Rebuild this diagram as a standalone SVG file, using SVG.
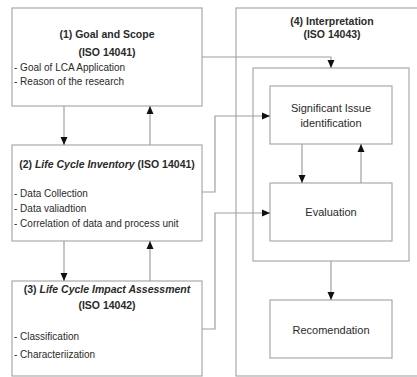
<svg xmlns="http://www.w3.org/2000/svg" width="417" height="377" viewBox="0 0 417 377">
<defs>
<marker id="ah" markerUnits="userSpaceOnUse" markerWidth="8" markerHeight="8" viewBox="0 0 8 8" refX="8" refY="4" orient="auto">
<path d="M0,0.5 L8,4 L0,7.5 Z" fill="#111"/>
</marker>
<style>
.box{fill:#fff;stroke:#aaaaaa;stroke-width:1.2}
.con{fill:none;stroke:#a0a0a0;stroke-width:1.2;marker-end:url(#ah)}
text{font-family:"Liberation Sans",Arial,sans-serif;fill:#2a2a2a}
.t{font-size:10.5px;font-weight:bold;text-anchor:middle}
.b{font-size:10px}
.n{font-size:11px;text-anchor:middle}
</style>
</defs>
<rect width="417" height="377" fill="#fff"/>
<g id="interpretation">
<rect class="box" x="236" y="8" width="200" height="368"/>
<text class="t" x="332" y="25">(4) Interpretation</text>
<text class="t" x="332" y="38">(ISO 14043)</text>
</g>
<g id="inner-group">
<rect class="box" x="253" y="68" width="156" height="193"/>
</g>
<g id="goal-scope">
<rect class="box" x="12" y="8" width="190" height="98"/>
<text class="t" x="107" y="38">(1) Goal and Scope</text>
<text class="t" x="107" y="56">(ISO 14041)</text>
<text class="b" x="14" y="70.5">- Goal of LCA Application</text>
<text class="b" x="14" y="84.5">- Reason of the research</text>
</g>
<g id="inventory">
<rect class="box" x="12" y="145" width="190" height="96"/>
<text class="t" x="107" y="168">(2) <tspan font-style="italic">Life Cycle Inventory</tspan> (ISO 14041)</text>
<text class="b" x="14" y="196.5">- Data Collection</text>
<text class="b" x="14" y="212">- Data valiadtion</text>
<text class="b" x="14" y="226.5">- Correlation of data and process unit</text>
</g>
<g id="impact">
<rect class="box" x="12" y="281" width="190" height="95"/>
<text class="t" x="107" y="293">(3) <tspan font-style="italic">Life Cycle Impact Assessment</tspan></text>
<text class="t" x="107" y="309">(ISO 14042)</text>
<text class="b" x="14" y="339.5">- Classification</text>
<text class="b" x="14" y="357.5">- Characteriization</text>
</g>
<g id="significant">
<rect class="box" x="270" y="86" width="122" height="58"/>
<text class="n" x="331" y="112">Significant Issue</text>
<text class="n" x="331" y="127">identification</text>
</g>
<g id="evaluation">
<rect class="box" x="270" y="183" width="122" height="58"/>
<text class="n" x="331" y="216">Evaluation</text>
</g>
<g id="recomendation">
<rect class="box" x="270" y="300" width="122" height="58"/>
<text class="n" x="331" y="334">Recomendation</text>
</g>
<g id="connectors">
<path class="con" d="M64,106 V145"/>
<path class="con" d="M150,145 V106"/>
<path class="con" d="M64,241 V281"/>
<path class="con" d="M150,281 V241"/>
<path class="con" d="M202,57 H331 V68"/>
<path class="con" d="M202,192 H215 V116 H270"/>
<path class="con" d="M202,329 H215 V213 H270"/>
<path class="con" d="M302,144 V183"/>
<path class="con" d="M361,183 V144"/>
<path class="con" d="M331,261 V300"/>
</g>
</svg>
